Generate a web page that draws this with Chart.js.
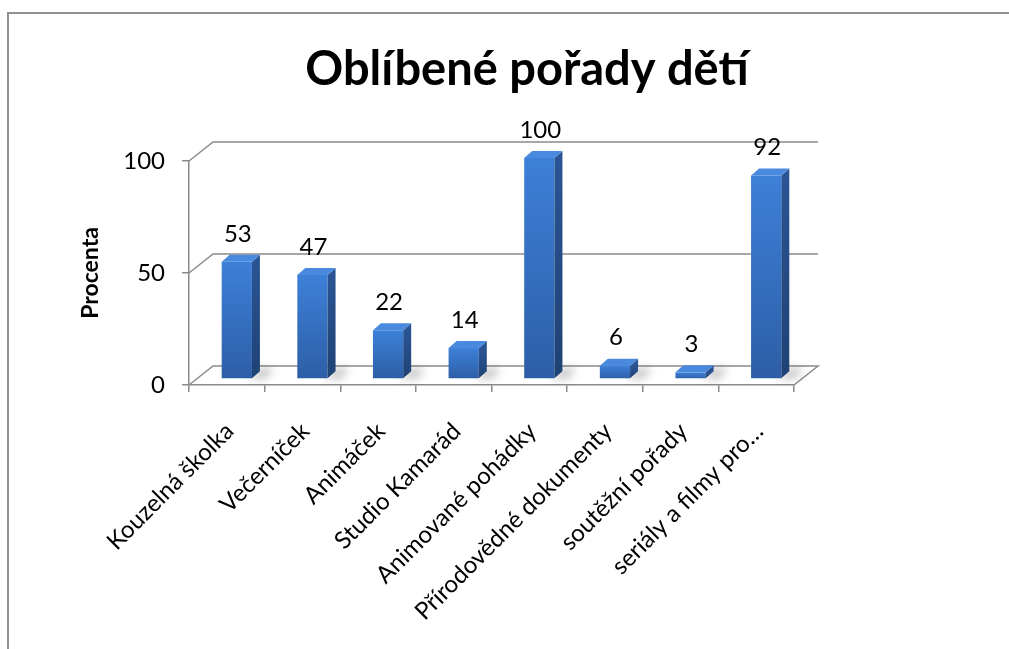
<!DOCTYPE html>
<html lang="cs">
<head>
<meta charset="utf-8">
<title>Oblíbené pořady dětí</title>
<script src="https://cdn.jsdelivr.net/npm/chart.js@4.4.1/dist/chart.umd.min.js"></script>
<style>
  html, body { margin: 0; padding: 0; background: #fff; overflow: hidden; }
  body { width: 1009px; height: 649px; position: relative; }
  #wrap { position: absolute; left: 0; top: 0; width: 1009px; height: 649px; }
</style>
</head>
<body>
<div id="wrap"><canvas id="chart"></canvas></div>
<script>
// Data
const categories = ['Kouzelná školka', 'Večerníček', 'Animáček', 'Studio Kamarád',
                    'Animované pohádky', 'Přírodovědné dokumenty', 'soutěžní pořady', 'seriály a filmy pro…'];
const values = [53, 47, 22, 14, 100, 6, 3, 92];
const yTicks = [0, 50, 100];
const chartTitle = 'Oblíbené pořady dětí';
const yAxisTitle = 'Procenta';

// 3D vzhled
const DEPTH_X = 24, DEPTH_Y = -19;     // zadní stěna
const BAR_DX = 10, BAR_BASE = 379, BAR_SY = 0.987;   // sloupce uprostřed hloubky
const SIDE_X = 8, SIDE_Y = -7;         // boční a horní plocha sloupce
const LINE = '#8a8a8a';
const FONT = 'Lato, Carlito, Calibri, "Open Sans", sans-serif';

const C = {
    left: 189, right: 794, top: 161, bottom: 385
};

function barPt(area, x, y) {
    return [x + BAR_DX, BAR_BASE + (y - area.bottom) * BAR_SY];
}

// zadní stěna, podlaha, stíny
const wallPlugin = {
    id: 'wall',
    beforeDraw(chart) {
        // rámeček grafu (oříznutý vpravo a dole)
        const { ctx } = chart;
        ctx.save();
        ctx.strokeStyle = '#8f8f8f';
        ctx.lineWidth = 2;
        ctx.beginPath();
        ctx.moveTo(8, 700);
        ctx.lineTo(8, 13);
        ctx.lineTo(1100, 13);
        ctx.stroke();
        ctx.restore();
    },
    beforeDatasetsDraw(chart) {
        const { ctx, chartArea: a, scales: { y } } = chart;
        ctx.save();
        ctx.strokeStyle = LINE;
        ctx.lineWidth = 1.5;
        yTicks.forEach(t => {
            const py = y.getPixelForValue(t);
            ctx.beginPath();
            ctx.moveTo(a.left, py);
            ctx.lineTo(a.left + DEPTH_X, py + DEPTH_Y);
            ctx.lineTo(a.right + DEPTH_X, py + DEPTH_Y);
            if (t === 0) ctx.lineTo(a.right, py);
            ctx.stroke();
        });

        // stíny na podlaze
        const meta = chart.getDatasetMeta(0);
        ctx.filter = 'blur(4px)';
        meta.data.forEach(bar => {
            const p = bar.getProps(['x', 'width'], true);
            const [x] = barPt(a, p.x + p.width / 2, a.bottom);
            ctx.fillStyle = 'rgba(0,0,0,0.22)';
            ctx.beginPath();
            ctx.moveTo(x - 4, BAR_BASE);
            ctx.lineTo(x + SIDE_X, BAR_BASE + SIDE_Y - 4);
            ctx.lineTo(x + SIDE_X + 14, BAR_BASE + SIDE_Y - 4);
            ctx.lineTo(x + 14, BAR_BASE);
            ctx.closePath();
            ctx.fill();
        });
        ctx.restore();

        // posun sloupců do hloubky
        ctx.save();
        ctx.translate(BAR_DX, BAR_BASE);
        ctx.scale(1, BAR_SY);
        ctx.translate(0, -a.bottom);
    },
    afterDatasetsDraw(chart) {
        const { ctx, chartArea: a } = chart;
        ctx.restore();
        const meta = chart.getDatasetMeta(0);
        ctx.save();
        meta.data.forEach((bar, i) => {
            const p = bar.getProps(['x', 'y', 'base', 'width'], true);
            const [l, t] = barPt(a, p.x - p.width / 2, p.y);
            const [r, b] = barPt(a, p.x + p.width / 2, p.base);

            // bok
            const gs = ctx.createLinearGradient(0, t, 0, b);
            gs.addColorStop(0, '#2a5494');
            gs.addColorStop(1, '#1f4274');
            ctx.fillStyle = gs;
            ctx.beginPath();
            ctx.moveTo(r, t);
            ctx.lineTo(r + SIDE_X, t + SIDE_Y);
            ctx.lineTo(r + SIDE_X, b + SIDE_Y);
            ctx.lineTo(r, b);
            ctx.closePath();
            ctx.fill();

            // vršek
            ctx.fillStyle = '#4a8ade';
            ctx.beginPath();
            ctx.moveTo(l, t);
            ctx.lineTo(l + SIDE_X, t + SIDE_Y);
            ctx.lineTo(r + SIDE_X, t + SIDE_Y);
            ctx.lineTo(r, t);
            ctx.closePath();
            ctx.fill();

            // popisek hodnoty
            ctx.fillStyle = '#000';
            ctx.font = '24px ' + FONT;
            ctx.textAlign = 'center';
            ctx.textBaseline = 'middle';
            ctx.fillText(String(values[i]), (l + r) / 2 + 1, t - 28);
        });
        ctx.restore();
    },
    afterDraw(chart) {
        const { ctx } = chart;
        ctx.save();
        ctx.fillStyle = '#000';
        ctx.font = 'bold 47px ' + FONT;
        ctx.textAlign = 'center';
        ctx.textBaseline = 'middle';
        ctx.fillText(chartTitle, 527, 70);
        ctx.restore();
    }
};

const ctx = document.getElementById('chart');
new Chart(ctx, {
    type: 'bar',
    data: {
        labels: categories,
        datasets: [{
            label: yAxisTitle,
            data: values,
            backgroundColor: (c) => {
                const chart = c.chart;
                const a = chart.chartArea;
                if (!a) return '#3a74c4';
                const ys = chart.scales.y;
                const top = ys.getPixelForValue(c.parsed ? c.parsed.y : 100);
                const g = chart.ctx.createLinearGradient(0, top, 0, a.bottom);
                g.addColorStop(0, '#3d80d8');
                g.addColorStop(1, '#2d5ea6');
                return g;
            },
            borderWidth: 0,
            categoryPercentage: 0.4,
            barPercentage: 1,
            clip: false
        }]
    },
    options: {
        responsive: true,
        maintainAspectRatio: false,
        animation: false,
        layout: { padding: { left: 20, top: C.top, right: 1009 - C.right, bottom: 0 } },
        plugins: {
            legend: { display: false },
            tooltip: { enabled: false },
            title: { display: false }
        },
        scales: {
            x: {
                grid: { display: true, drawOnChartArea: false, drawTicks: true, tickLength: 7, color: LINE, lineWidth: 1.5 },
                border: { display: true, color: LINE, width: 1.5 },
                ticks: {
                    autoSkip: false, minRotation: 45, maxRotation: 45,
                    color: '#000', font: { family: FONT, size: 24 }, padding: 25, labelOffset: 3
                },
                afterFit(scale) {
                    scale.height = 649 - C.bottom;
                    scale.paddingLeft = 0;
                    scale.paddingRight = 0;
                }
            },
            y: {
                min: 0, max: 100,
                afterBuildTicks(scale) {
                    scale.ticks = yTicks.map(v => ({ value: v }));
                },
                grid: { display: true, drawOnChartArea: false, drawTicks: true, tickLength: 7, color: LINE, lineWidth: 1.5 },
                border: { display: true, color: LINE, width: 1.5 },
                ticks: { color: '#000', font: { family: FONT, size: 24 }, padding: 17 },
                title: {
                    display: true, text: yAxisTitle, color: '#000',
                    font: { family: FONT, size: 23, weight: 'bold' },
                    padding: { top: 57, bottom: 0 }
                },
                afterFit(scale) {
                    scale.width = C.left - 20;
                    scale.paddingTop = 0;
                    scale.paddingBottom = 0;
                }
            }
        }
    },
    plugins: [wallPlugin]
});
</script>
</body>
</html>
